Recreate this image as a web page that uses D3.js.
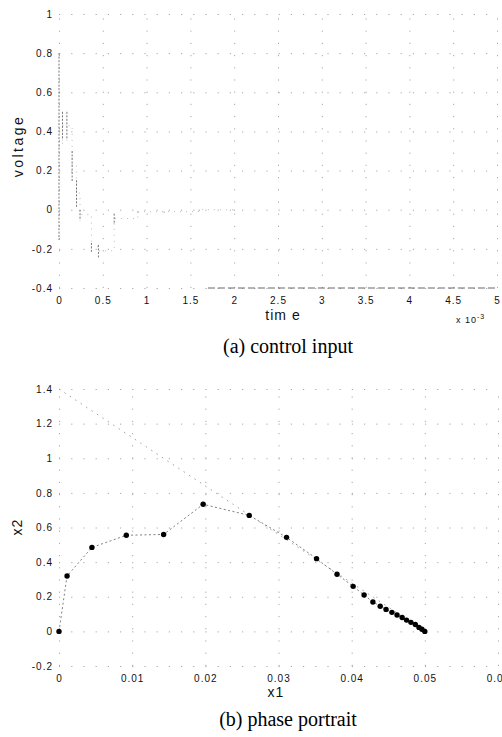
<!DOCTYPE html>
<html>
<head>
<meta charset="utf-8">
<script src="https://cdn.jsdelivr.net/npm/d3@7"></script>
<style>
  body { margin: 0; background: #fff; }
  svg { display: block; }
  .tick text { font-family: "Liberation Sans", Arial, sans-serif; font-size: 10px; letter-spacing: 1px; fill: #111; }
  .grid line { stroke: #a8a8a8; stroke-width: 1; stroke-dasharray: 1.2 11; }
  .lbl { font-family: "Liberation Sans", Arial, sans-serif; font-size: 14px; letter-spacing: 2.5px; fill: #111; }
  .cap { font-family: "Liberation Serif", "Times New Roman", serif; font-size: 20px; fill: #000; }
</style>
</head>
<body>
<div id="chart"></div>
<script>
// top panel: control input (time in 1e-3 s), switching pulses as (time, high, low)
var time_ticks = [0, 0.5, 1, 1.5, 2, 2.5, 3, 3.5, 4, 4.5, 5];
var volt_ticks = [-0.4, -0.2, 0, 0.2, 0.4, 0.6, 0.8, 1];
var pulse_t  = [0, 0.04, 0.09, 0.15, 0.2, 0.24, 0.37, 0.45, 0.63, 0.9, 1.2, 1.6, 2.0];
var pulse_hi = [0.8, 0.5, 0.5, 0.3, 0.15, 0, -0.17, -0.18, -0.02, -0.01, -0.01, 0, 0];
var pulse_lo = [-0.15, 0.36, 0.36, 0.15, 0.02, -0.05, -0.21, -0.24, -0.07, -0.01, -0.01, 0, 0];

// bottom panel: phase portrait
var x1_ticks = [0, 0.01, 0.02, 0.03, 0.04, 0.05, 0.06];
var x2_ticks = [-0.2, 0, 0.2, 0.4, 0.6, 0.8, 1, 1.2, 1.4];
var x1_vals = [0, 0.0011, 0.0045, 0.0092, 0.0143, 0.0197, 0.0260, 0.0311, 0.0352, 0.0380, 0.0402, 0.0417, 0.0429, 0.0439, 0.0447, 0.0455, 0.0462, 0.0469, 0.0475, 0.0481, 0.0487, 0.0492, 0.0496, 0.0500];
var x2_vals = [0, 0.32, 0.485, 0.555, 0.56, 0.734, 0.67, 0.543, 0.42, 0.33, 0.26, 0.21, 0.17, 0.145, 0.127, 0.11, 0.095, 0.08, 0.065, 0.052, 0.04, 0.023, 0.012, 0];
var surf_x1 = [0, 0.05];
var surf_x2 = [1.4, 0];

var svg = d3.select("#chart").append("svg")
  .attr("width", 502)
  .attr("height", 737);

function fmt(d){ return String(+d.toFixed(3)); }

// draws grid + tick labels for one panel
function Draw_Axes(x, y, xt, yt){
  var g = svg.append("g");
  var left = x.range()[0], right = x.range()[1];
  var top = y.range()[1], bottom = y.range()[0];

  g.append("g").attr("class", "grid")
    .attr("transform", "translate(0," + bottom + ")")
    .call(d3.axisBottom(x).tickValues(xt).tickSize(-(bottom - top)).tickPadding(9).tickFormat(fmt))
    .call(function(s){ s.select(".domain").remove(); });

  g.append("g").attr("class", "grid")
    .attr("transform", "translate(" + left + ",0)")
    .call(d3.axisLeft(y).tickValues(yt).tickSize(-(right - left)).tickPadding(6).tickFormat(fmt))
    .call(function(s){ s.select(".domain").remove(); });
  return g;
}

// ---------- panel (a)
var xa = d3.scaleLinear().domain([0, 5]).range([59, 497]);
var ya = d3.scaleLinear().domain([-0.4, 1]).range([288, 14]);
Draw_Axes(xa, ya, time_ticks, volt_ticks);

// bottom edge, darker dashes on the right part
svg.append("line")
  .attr("x1", xa(1.7)).attr("x2", xa(5))
  .attr("y1", ya(-0.4)).attr("y2", ya(-0.4))
  .attr("stroke", "#666").attr("stroke-dasharray", "7 3");

// faint trace joining the pulses
var trace = pulse_t.map(function(t, i){ return [t, (pulse_hi[i] + pulse_lo[i]) / 2]; });
svg.append("path")
  .datum(trace)
  .attr("fill", "none")
  .attr("stroke", "#bbb")
  .attr("stroke-dasharray", "1 5")
  .attr("d", d3.line().curve(d3.curveStepAfter).x(function(d){ return xa(d[0]); }).y(function(d){ return ya(d[1]); }));

svg.selectAll("line.pulse")
  .data(pulse_t)
  .enter().append("line")
  .attr("class", "pulse")
  .attr("x1", function(d){ return xa(d); })
  .attr("x2", function(d){ return xa(d); })
  .attr("y1", function(d, i){ return ya(pulse_hi[i]); })
  .attr("y2", function(d, i){ return ya(pulse_lo[i]) + 1; })
  .attr("stroke", "#777")
  .attr("stroke-dasharray", "2 1.5");

svg.append("text").attr("class", "lbl")
  .attr("transform", "translate(23,146)rotate(-90)")
  .attr("text-anchor", "middle")
  .text("voltage");

svg.append("text").attr("class", "lbl")
  .attr("x", 283).attr("y", 320)
  .attr("text-anchor", "middle")
  .style("letter-spacing", "1px")
  .text("tim e");

var exp = svg.append("text").attr("class", "lbl")
  .attr("x", 456).attr("y", 323)
  .style("font-size", "9px").style("letter-spacing", "1px");
exp.append("tspan").text("x 10");
exp.append("tspan").attr("dy", -4).style("font-size", "7px").text("-3");

svg.append("text").attr("class", "cap")
  .attr("x", 288).attr("y", 353)
  .attr("text-anchor", "middle")
  .text("(a) control input");

// ---------- panel (b)
var xb = d3.scaleLinear().domain([0, 0.06]).range([59, 498]);
var yb = d3.scaleLinear().domain([-0.2, 1.4]).range([666, 389]);
Draw_Axes(xb, yb, x1_ticks, x2_ticks);

// switching line
svg.append("path")
  .datum(surf_x1.map(function(v, i){ return [v, surf_x2[i]]; }))
  .attr("fill", "none")
  .attr("stroke", "#a0a0a0")
  .attr("stroke-dasharray", "1.5 5")
  .attr("d", d3.line().x(function(d){ return xb(d[0]); }).y(function(d){ return yb(d[1]); }));

var traj = x1_vals.map(function(v, i){ return [v, x2_vals[i]]; });
svg.append("path")
  .datum(traj)
  .attr("fill", "none")
  .attr("stroke", "#808080")
  .attr("stroke-dasharray", "2 2.5")
  .attr("d", d3.line().x(function(d){ return xb(d[0]); }).y(function(d){ return yb(d[1]); }));

svg.selectAll("circle.pt")
  .data(traj)
  .enter().append("circle")
  .attr("class", "pt")
  .attr("cx", function(d){ return xb(d[0]); })
  .attr("cy", function(d){ return yb(d[1]); })
  .attr("r", 2.7)
  .attr("fill", "#000");

svg.append("text").attr("class", "lbl")
  .attr("transform", "translate(22,527)rotate(-90)")
  .attr("text-anchor", "middle")
  .style("letter-spacing", "1px")
  .text("x2");

svg.append("text").attr("class", "lbl")
  .attr("x", 276).attr("y", 697)
  .attr("text-anchor", "middle")
  .style("letter-spacing", "1px")
  .text("x1");

svg.append("text").attr("class", "cap")
  .attr("x", 288).attr("y", 726)
  .attr("text-anchor", "middle")
  .text("(b) phase portrait");
</script>
</body>
</html>
